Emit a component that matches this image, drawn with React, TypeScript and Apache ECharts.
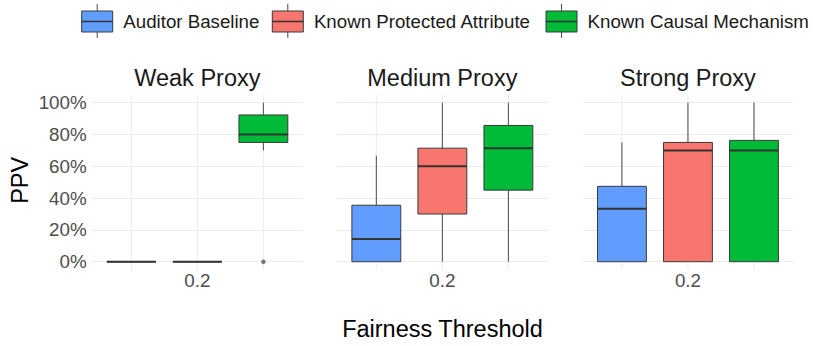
import React, { useEffect, useRef } from "react";
import * as echarts from "echarts";

// ---------- data ----------
const panelTitles = ["Weak Proxy", "Medium Proxy", "Strong Proxy"];
const groupNames = ["Auditor Baseline", "Known Protected Attribute", "Known Causal Mechanism"];
const groupColors = ["#619CFF", "#F8766D", "#00BA38"];
const threshold = 0.2;
const dodgeOffsets = [-0.25, 0, 0.25];
const yTicks = [0, 20, 40, 60, 80, 100];

// per panel: [min, q1, median, q3, max] in %
const auditorBaseline = [
  [0, 0, 0, 0, 0],
  [0, 0, 14.3, 35.5, 66.7],
  [0, 0, 33.3, 47.4, 75],
];
const knownProtectedAttribute = [
  [0, 0, 0, 0, 0],
  [0, 30, 60, 71.4, 100],
  [0, 0, 70, 75, 100],
];
const knownCausalMechanism = [
  [70, 75, 80, 92.3, 100],
  [0, 45, 71.4, 85.7, 100],
  [0, 0, 70, 76.3, 100],
];
// outliers per group per panel
const auditorOutliers = [[], [], []];
const protectedOutliers = [[], [], []];
const causalOutliers = [[0], [], []];

const groupStats = [auditorBaseline, knownProtectedAttribute, knownCausalMechanism];
const groupOutliers = [auditorOutliers, protectedOutliers, causalOutliers];

// ---------- layout ----------
const FONT = "'Liberation Sans', Arial, Helvetica, sans-serif";
const panelLefts = [91.7, 336.7, 582.3];
const panelWidth = 211.3;
const gridTop = 102.7;
const gridHeight = 159;
const BOX_W = 0.185;
const X_MIN = -0.2;
const X_MAX = 0.6;

export default function App() {
  const ref = useRef<HTMLDivElement>(null);

  useEffect(() => {
    if (!ref.current) return;
    const chart = echarts.init(ref.current, null, { renderer: "svg" });

    const grids = panelLefts.map((left) => ({
      left,
      top: gridTop,
      width: panelWidth,
      height: gridHeight,
      containLabel: false,
    }));

    const xAxes = panelLefts.map((_, i) => ({
      type: "value",
      gridIndex: i,
      min: X_MIN,
      max: X_MAX,
      interval: 0.2,
      axisLine: { show: false },
      axisTick: { show: false },
      splitLine: { show: false },
      axisLabel: {
        show: true,
        margin: 9,
        color: "#4d4d4d",
        fontSize: 18.8,
        fontFamily: FONT,
        showMinLabel: false,
        showMaxLabel: false,
        formatter: (v: number) => (Math.abs(v - threshold) < 1e-6 ? String(threshold) : ""),
      },
    }));

    const yAxes = panelLefts.map((_, i) => ({
      type: "value",
      gridIndex: i,
      min: 0,
      max: 100,
      interval: 20,
      axisLine: { show: false },
      axisTick: { show: false },
      splitLine: { show: true, lineStyle: { color: "#ebebeb", width: 1 } },
      axisLabel: {
        show: i === 0,
        margin: 5,
        color: "#4d4d4d",
        fontSize: 18.8,
        fontFamily: FONT,
        formatter: (v: number) => (yTicks.includes(v) ? `${v}%` : ""),
      },
    }));

    const series: any[] = [];

    // vertical grid lines (at box centres), extended to -5%..105%
    panelLefts.forEach((_, p) => {
      series.push({
        type: "custom",
        xAxisIndex: p,
        yAxisIndex: p,
        clip: false,
        silent: true,
        z: 1,
        encode: { x: 0 },
        data: dodgeOffsets.map((d) => [threshold + d]),
        renderItem: (params: any, api: any) => {
          const x = api.value(0);
          const a = api.coord([x, -5]);
          const b = api.coord([x, 105]);
          return {
            type: "line",
            shape: { x1: a[0], y1: a[1], x2: b[0], y2: b[1] },
            style: { stroke: "#ebebeb", lineWidth: 1 },
          };
        },
      });
    });

    // boxes
    panelLefts.forEach((_, p) => {
      groupNames.forEach((name, g) => {
        const color = groupColors[g];
        series.push({
          type: "custom",
          name,
          xAxisIndex: p,
          yAxisIndex: p,
          clip: false,
          z: 3,
          encode: { x: 0, y: [1, 2, 3, 4, 5] },
          data: [[threshold + dodgeOffsets[g], ...groupStats[g][p]]],
          renderItem: (params: any, api: any) => {
            const x = api.value(0);
            const lo = api.coord([x, api.value(1)]);
            const q1 = api.coord([x, api.value(2)]);
            const med = api.coord([x, api.value(3)]);
            const q3 = api.coord([x, api.value(4)]);
            const hi = api.coord([x, api.value(5)]);
            const half = api.size([BOX_W, 0])[0] / 2;
            const cx = med[0];
            return {
              type: "group",
              children: [
                {
                  type: "line",
                  shape: { x1: cx, y1: hi[1], x2: cx, y2: q3[1] },
                  style: { stroke: "#4a4a4a", lineWidth: 1 },
                },
                {
                  type: "line",
                  shape: { x1: cx, y1: q1[1], x2: cx, y2: lo[1] },
                  style: { stroke: "#4a4a4a", lineWidth: 1 },
                },
                {
                  type: "rect",
                  shape: { x: cx - half, y: q3[1], width: half * 2, height: q1[1] - q3[1] },
                  style: { fill: color, stroke: "#3a3a3a", lineWidth: 1 },
                },
                {
                  type: "line",
                  shape: { x1: cx - half, y1: med[1], x2: cx + half, y2: med[1] },
                  style: { stroke: "#333333", lineWidth: 2 },
                },
              ],
            };
          },
        });
        const outs = groupOutliers[g][p];
        if (outs.length) {
          series.push({
            type: "scatter",
            xAxisIndex: p,
            yAxisIndex: p,
            clip: false,
            z: 4,
            symbol: "circle",
            symbolSize: 4.5,
            itemStyle: { color: "#555555" },
            data: outs.map((v) => [threshold + dodgeOffsets[g], v]),
          });
        }
      });
    });

    // legend + titles as graphic
    const legendKeyX = [81.7, 272.3, 546];
    const legendGraphics: any[] = [];
    groupNames.forEach((name, g) => {
      const x = legendKeyX[g];
      legendGraphics.push(
        {
          type: "line",
          shape: { x1: x + 15.5, y1: 4, x2: x + 15.5, y2: 38 },
          style: { stroke: "#4a4a4a", lineWidth: 1 },
        },
        {
          type: "rect",
          shape: { x, y: 11, width: 31, height: 21 },
          style: { fill: groupColors[g], stroke: "#3a3a3a", lineWidth: 1 },
        },
        {
          type: "line",
          shape: { x1: x, y1: 21.5, x2: x + 31, y2: 21.5 },
          style: { stroke: "#333333", lineWidth: 1.5 },
        },
        {
          type: "text",
          x: x + 41.6,
          y: 21.5,
          style: {
            text: name,
            fontSize: 18.7,
            fontFamily: FONT,
            fill: "#1a1a1a",
            verticalAlign: "middle",
            align: "left",
          },
        }
      );
    });

    const titleGraphics = panelTitles.map((t, i) => ({
      type: "text",
      x: panelLefts[i] + panelWidth / 2,
      y: 78,
      style: {
        text: t,
        fontSize: 23.5,
        fontFamily: FONT,
        fill: "#1a1a1a",
        align: "center",
        verticalAlign: "middle",
      },
    }));

    chart.setOption({
      animation: false,
      grid: grids,
      xAxis: xAxes,
      yAxis: yAxes,
      series,
      graphic: [
        ...legendGraphics,
        ...titleGraphics,
        {
          type: "text",
          x: 442.5,
          y: 328.5,
          style: {
            text: "Fairness Threshold",
            fontSize: 23.5,
            fontFamily: FONT,
            fill: "#000000",
            align: "center",
            verticalAlign: "middle",
          },
        },
        {
          type: "text",
          x: 20,
          y: 180.3,
          rotation: Math.PI / 2,
          style: {
            text: "PPV",
            fontSize: 23.5,
            fontFamily: FONT,
            fill: "#000000",
            align: "center",
            verticalAlign: "middle",
          },
        },
      ],
    });

    return () => chart.dispose();
  }, []);

  return (
    <div
      ref={ref}
      style={{ position: "absolute", left: 0, top: 0, width: 813, height: 346, background: "#ffffff" }}
    />
  );
}
